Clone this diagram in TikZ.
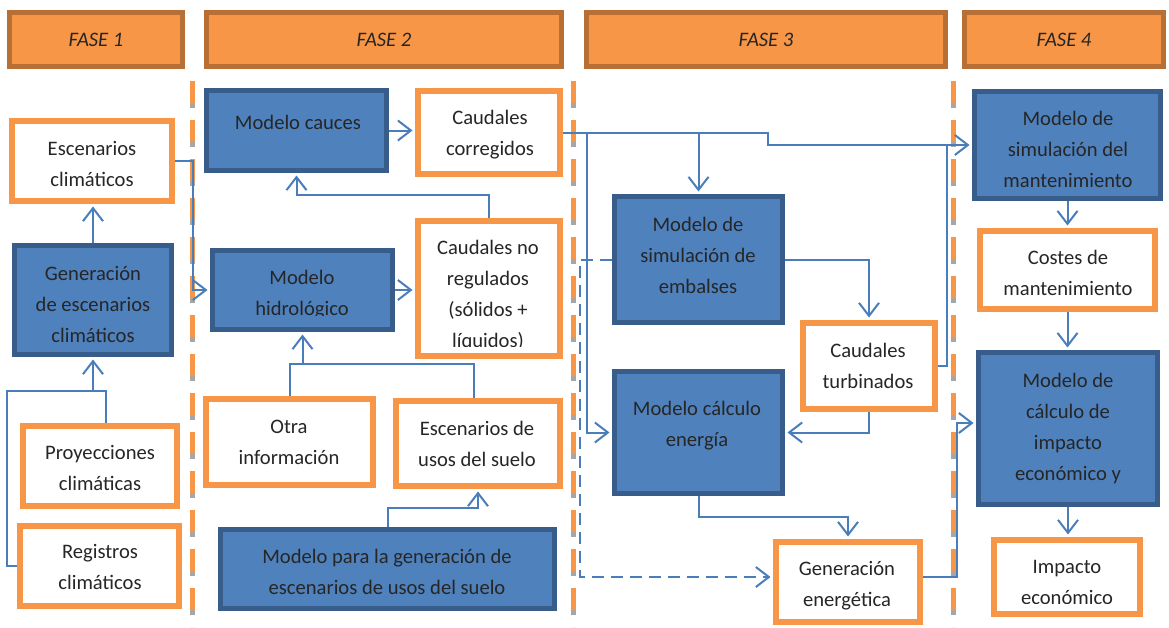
\documentclass[tikz,border=0pt]{standalone}
\usepackage{fontspec}
\setmainfont{Carlito}
\usetikzlibrary{arrows.meta}
\definecolor{hdrfill}{HTML}{F79646}
\definecolor{hdrline}{HTML}{B86F35}
\definecolor{orgline}{HTML}{F79646}
\definecolor{bluefill}{HTML}{4F81BD}
\definecolor{blueline}{HTML}{385D8A}
\definecolor{conn}{HTML}{4A7EBB}
\definecolor{txtc}{HTML}{262626}
\definecolor{sepgray}{HTML}{A6A6A6}
\tikzset{
  hdr/.style={draw=hdrline, fill=hdrfill, line width=5pt, inner sep=0pt, text=txtc, font=\fontsize{20.6pt}{31pt}\selectfont\itshape},
  bbox/.style={draw=blueline, fill=bluefill, line width=5pt, inner sep=0pt},
  obox/.style={draw=orgline, fill=white, line width=6pt, inner sep=0pt},
  txt/.style={text=txtc, align=center, inner sep=0pt, font=\fontsize{20.6pt}{31pt}\selectfont},
  conline/.style={draw=conn, line width=2pt},
  arr/.style={conline, -{Straight Barb[length=13pt,width=20pt]}, shorten >=2.5pt},
  sepg/.style={draw=sepgray, line width=5pt, dash pattern=on 27pt off 12pt},
  sepo/.style={draw=hdrfill, line width=5pt, dash pattern=on 22pt off 17pt},
}
\begin{document}
\begin{tikzpicture}[x=1pt,y=-1pt]
\useasboundingbox (0,0) rectangle (1169,627);
% separators
\foreach \sx in {192.5,573,953}{
  \draw[sepg] (\sx,81) -- (\sx,627);
  \draw[sepo] (\sx,81) -- (\sx,627);
}
% headers
\node[hdr, minimum width=173pt, minimum height=54pt] (f1) at (96,39.5) {FASE 1};
\node[hdr, minimum width=355pt, minimum height=54pt] (f2) at (384,39.5) {FASE 2};
\node[hdr, minimum width=359pt, minimum height=54pt] (f3) at (766,39.5) {FASE 3};
\node[hdr, minimum width=199pt, minimum height=54pt] (f4) at (1064,39.5) {FASE 4};
% blue boxes
\node[bbox, minimum width=157pt, minimum height=109pt] (gen) at (93,300) {};
\node[bbox, minimum width=180pt, minimum height=80pt] (cauces) at (296.5,130.5) {};
\node[bbox, minimum width=180pt, minimum height=79pt] (hid) at (302.5,290) {};
\node[bbox, minimum width=334pt, minimum height=79pt] (usosm) at (387.5,569) {};
\node[bbox, minimum width=168pt, minimum height=126pt] (emb) at (698.5,259.5) {};
\node[bbox, minimum width=168pt, minimum height=122pt] (ener) at (698.5,432.5) {};
\node[bbox, minimum width=186pt, minimum height=107pt] (mant) at (1067.5,145) {};
\node[bbox, minimum width=179pt, minimum height=152pt] (impm) at (1068,428.5) {};
% orange boxes
\node[obox, minimum width=160pt, minimum height=80pt] (escclim) at (92,161) {};
\node[obox, minimum width=154pt, minimum height=80pt] (proy) at (100,466) {};
\node[obox, minimum width=159pt, minimum height=80pt] (reg) at (99.5,566) {};
\node[obox, minimum width=142pt, minimum height=83pt] (corr) at (489,132.5) {};
\node[obox, minimum width=142pt, minimum height=135pt] (noreg) at (489,288.5) {};
\node[obox, minimum width=167pt, minimum height=86pt] (otra) at (289.5,442) {};
\node[obox, minimum width=164pt, minimum height=85pt] (escusos) at (478,443.5) {};
\node[obox, minimum width=132pt, minimum height=86pt] (turb) at (869,366) {};
\node[obox, minimum width=144pt, minimum height=80pt] (geneng) at (848,582) {};
\node[obox, minimum width=175pt, minimum height=78pt] (costes) at (1067.5,270) {};
\node[obox, minimum width=146pt, minimum height=74pt] (impeco) at (1067,577) {};
% texts
\node[txt] (escclim-t) at (92,164) {Escenarios\\climáticos};
\node[txt] (gen-t) at (93,304) {Generación\\de escenarios\\climáticos};
\node[txt] (proy-t) at (100,468) {Proyecciones\\climáticas};
\node[txt] (reg-t) at (100,567) {Registros\\climáticos};
\node[txt] (cauces-t) at (298,122) {Modelo cauces};
\node[txt] (corr-t) at (490,135) {Caudales\\corregidos};
\begin{scope}
  \clip (200,250) rectangle (400,315.5);
  \node[txt] (hid-t) at (302,295) {Modelo\\hidrológico};
\end{scope}
\begin{scope}
  \clip (416,220) rectangle (562,346);
  \node[txt] (noreg-t) at (488,296) {Caudales no\\regulados\\(sólidos +\\líquidos)};
\end{scope}
\node[txt] (otra-t) at (289,442) {Otra\\información};
\node[txt] (escusos-t) at (477,444) {Escenarios de\\usos del suelo};
\node[txt] (usosm-t) at (387,572) {Modelo para la generación de\\escenarios de usos del suelo};
\node[txt] (emb-t) at (698,255) {Modelo de\\simulación de\\embalses};
\node[txt] (ener-t) at (697,426) {Modelo cálculo\\energía};
\node[txt] (turb-t) at (868,366) {Caudales\\turbinados};
\node[txt] (geneng-t) at (847,586) {Generación\\energética};
\node[txt] (mant-t) at (1068,149) {Modelo de\\simulación del\\mantenimiento};
\node[txt] (costes-t) at (1068,273) {Costes de\\mantenimiento};
\node[txt] (impm-t) at (1068,428) {Modelo de\\cálculo de\\impacto\\económico y};
\begin{scope}
  \clip (990,540) rectangle (1144,603.5);
  \node[txt] (impeco-t) at (1067,582) {Impacto\\económico};
\end{scope}
% connectors
\draw[arr] (cauces.east) -- (cauces.east -| corr.west);
\draw[arr] (corr.east) -| (768,145) -- (mant.west);
\draw[arr] (698.5,132.5) -- (emb.north);
\draw[arr] (587,132.5) |- (ener.west);
\draw[arr] (noreg.north) |- (296.5,195) -- (cauces.south);
\draw[arr] (hid.east) -- (hid.east -| noreg.west);
\draw[arr] (escclim.east) -| (192.5,290) -- (hid.west);
\draw[arr] (gen.north) -- (gen.north |- escclim.south);
\draw[arr] (reg.west) -| (7,391) -| (gen.south);
\draw[conline] ([xshift=6pt]proy.north) |- (93,391);
\draw[conline] (otra.north) |- (474,364) -- ([xshift=-4pt]escusos.north);
\draw[arr] (302.5,364) -- (hid.south);
\draw[arr] (usosm.north) |- (478,508) -- (escusos.south);
\draw[arr] (emb.east) -| (turb.north);
\draw[arr] (turb.south) |- (ener.east);
\draw[conline] (turb.east) -| (947,145);
\draw[arr] (ener.south) |- (848,517) -- (geneng.north);
\draw[arr, dash pattern=on 12pt off 7pt] (emb.west) -| (580,577) -- ([yshift=5pt]geneng.west);
\draw[arr] ([yshift=5pt]geneng.east) -| (957,423) -- ([yshift=5.5pt]impm.west);
\draw[arr] (mant.south) -- (costes.north);
\draw[arr] (costes.south) -- (costes.south |- impm.north);
\draw[arr] (impm.south) -- (impm.south |- impeco.north);
\end{tikzpicture}
\end{document}
